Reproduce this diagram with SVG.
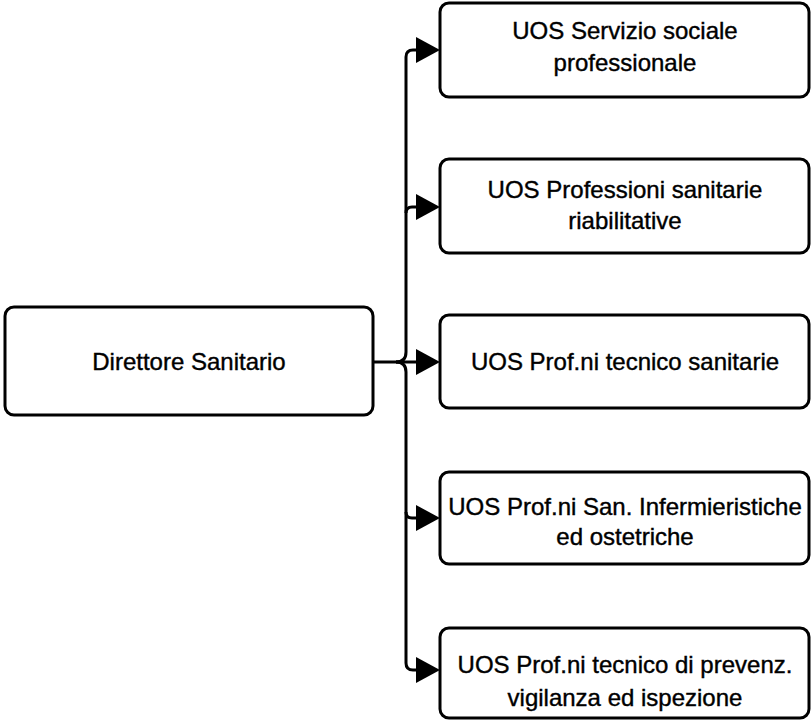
<svg xmlns="http://www.w3.org/2000/svg" width="812" height="721" viewBox="0 0 812 721">
<style>
.box{fill:#fff;stroke:#000;stroke-width:3}
.t{font-family:"Liberation Sans",Arial,sans-serif;font-size:24px;fill:#000;stroke:#000;stroke-width:0.4;text-anchor:middle}
.c{fill:none;stroke:#000;stroke-width:3}
</style>
<defs>
<marker id="ah" markerUnits="userSpaceOnUse" markerWidth="25" markerHeight="26" refX="0" refY="13" orient="auto">
<path d="M0,0 L24,13 L0,26 z" fill="#000"/>
</marker>
</defs>
<rect width="812" height="721" fill="#fff"/>
<g id="connectors">
<path class="c" d="M373,362 H416" marker-end="url(#ah)"/>
<path class="c" d="M396,362 Q406,362 406,352 V57 Q406,50 413,50 H416" marker-end="url(#ah)"/>
<path class="c" d="M396,362 Q406,362 406,372 V663 Q406,670 413,670 H416" marker-end="url(#ah)"/>
<path class="c" d="M406,213 Q406,207 412,207 H416" marker-end="url(#ah)"/>
<path class="c" d="M406,512 Q406,518 412,518 H416" marker-end="url(#ah)"/>
</g>
<g id="direttore">
<rect class="box" x="5" y="307" width="368" height="108" rx="9"/>
<text class="t" x="189" y="370">Direttore Sanitario</text>
</g>
<g id="uos1">
<rect class="box" x="440" y="3" width="369" height="94" rx="9"/>
<text class="t" x="625" y="39">UOS Servizio sociale</text>
<text class="t" x="625" y="71">professionale</text>
</g>
<g id="uos2">
<rect class="box" x="440" y="159" width="369" height="94" rx="9"/>
<text class="t" x="625" y="198">UOS Professioni sanitarie</text>
<text class="t" x="625" y="229">riabilitative</text>
</g>
<g id="uos3">
<rect class="box" x="440" y="315" width="369" height="93" rx="9"/>
<text class="t" x="625" y="370">UOS Prof.ni tecnico sanitarie</text>
</g>
<g id="uos4">
<rect class="box" x="440" y="472" width="369" height="92" rx="9"/>
<text class="t" x="625" y="515">UOS Prof.ni San. Infermieristiche</text>
<text class="t" x="625" y="545">ed ostetriche</text>
</g>
<g id="uos5">
<rect class="box" x="440" y="628" width="369" height="90" rx="9"/>
<text class="t" x="625" y="673">UOS Prof.ni tecnico di prevenz.</text>
<text class="t" x="625" y="706">vigilanza ed ispezione</text>
</g>
</svg>
